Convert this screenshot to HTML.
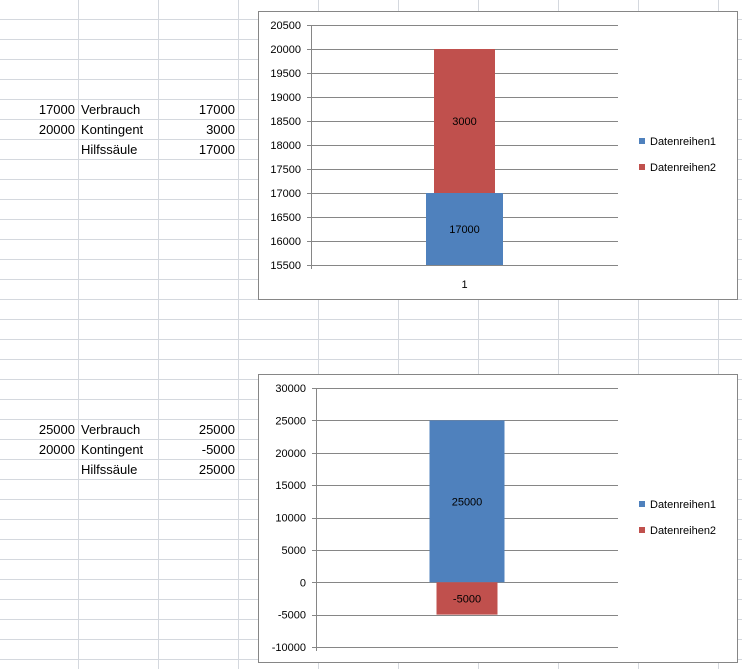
<!DOCTYPE html>
<html><head><meta charset="utf-8"><style>
html,body{margin:0;padding:0;background:#fff;}
svg{display:block;font-family:"Liberation Sans",sans-serif;}
</style></head><body>
<svg id="s" width="742" height="669" xmlns="http://www.w3.org/2000/svg">
<g id="grid"></g>
<g id="cells"></g>
<g id="c1"></g>
<g id="c2"></g>
</svg>
<script>
const NS='http://www.w3.org/2000/svg';
// chart 1 data
const c1Categories=['1'];
const c1Series1=[17000];
const c1Series2=[3000];
const c1Ticks=[15500,16000,16500,17000,17500,18000,18500,19000,19500,20000,20500];
// chart 2 data
const c2Categories=[''];
const c2Series1=[25000];
const c2Series2=[-5000];
const c2Ticks=[-10000,-5000,0,5000,10000,15000,20000,25000,30000];
const seriesNames=['Datenreihen1','Datenreihen2'];
// cell data
const block1=[['17000','Verbrauch','17000'],['20000','Kontingent','3000'],['','Hilfssäule','17000']];
const block2=[['25000','Verbrauch','25000'],['20000','Kontingent','-5000'],['','Hilfssäule','25000']];

function mk(tag,attrs,parent,text){const e=document.createElementNS(NS,tag);for(const k in attrs)e.setAttribute(k,attrs[k]);if(text!==undefined)e.textContent=text;parent.appendChild(e);return e;}
const grid=document.getElementById('grid');
for(let x=78;x<742;x+=80){const l=mk('line',{x1:x+.5,y1:0,x2:x+.5,y2:669,stroke:'#d4d8de'},grid);}
for(let y=19;y<669;y+=20){const l=mk('line',{x1:0,y1:y+.5,x2:742,y2:y+.5,stroke:'#d4d8de'},grid);}
const cells=document.getElementById('cells');
function block(rows,y0){rows.forEach((r,i)=>{const y=y0+i*20;
 let t=mk('text',{x:75,y:y,'text-anchor':'end','font-size':13},cells,r[0]);
 t=mk('text',{x:81,y:y,'font-size':13},cells,r[1]);
 t=mk('text',{x:235,y:y,'text-anchor':'end','font-size':13},cells,r[2]);});}
block(block1,114);block(block2,434);

function chart(g,box,plot,ticks,cats,s1,s2,b1,b2){
 const r=mk('rect',{x:box[0]+.5,y:box[1]+.5,width:box[2],height:box[3],fill:'#fff',stroke:'#868686'},g);
 const mn=ticks[0],mx=ticks[ticks.length-1];
 const Y=v=>plot.b-(v-mn)/(mx-mn)*(plot.b-plot.t);
 ticks.forEach(v=>{const l=mk('line',{x1:plot.l-4,x2:plot.r,y1:Math.round(Y(v))+.5,y2:Math.round(Y(v))+.5,stroke:'#868686'},g);
  const t=mk('text',{x:plot.l-10,y:Y(v)+4,'text-anchor':'end','font-size':11},g,String(v));});
 const ax=mk('line',{x1:plot.l+.5,x2:plot.l+.5,y1:plot.t,y2:plot.b+4,stroke:'#868686'},g);
 const cw=(plot.r-plot.l)/cats.length;
 cats.forEach((c,i)=>{const cx=plot.l+cw*(i+.5);
  const base1=0>mn?0:mn;
  let y1=Y(Math.max(s1[i],base1)),y0=Y(Math.min(s1[i],base1));
  if(s1[i]<mn){y1=Y(mn);}
  let b=mk('rect',{x:cx-b1/2,y:Math.min(Y(s1[i]),Y(Math.max(base1,mn))),width:b1,height:Math.abs(Y(s1[i])-Y(Math.max(base1,mn))),fill:'#4f81bd'},g);
  // series2 stacks on series1 if positive, else from 0 downward
  let lo,hi;if(s2[i]>=0){lo=s1[i];hi=s1[i]+s2[i];}else{lo=s2[i];hi=0;}
  b=mk('rect',{x:cx-b2/2,y:Y(hi),width:b2,height:Y(lo)-Y(hi),fill:'#c0504d'},g);
  let t=mk('text',{x:cx,y:(Y(s1[i])+Y(Math.max(base1,mn)))/2+4,'text-anchor':'middle','font-size':11},g,String(s1[i]));
  t=mk('text',{x:cx,y:(Y(hi)+Y(lo))/2+4,'text-anchor':'middle','font-size':11},g,String(s2[i]));
  if(c){t=mk('text',{x:cx,y:plot.b+23,'text-anchor':'middle','font-size':11},g,c);}
 });
 const ly=box[1]+box[3]/2;
 [['#4f81bd',-11],['#c0504d',15]].forEach((s,i)=>{const q=mk('rect',{x:639,y:ly+s[1]-6,width:6,height:6,fill:s[0]},g);
  const t=mk('text',{x:650,y:ly+s[1]+1,'font-size':11},g,seriesNames[i]);});
}
chart(document.getElementById('c1'),[258,11,479,288],{l:311,r:618,t:25,b:265},c1Ticks,c1Categories,c1Series1,c1Series2,77,61);
chart(document.getElementById('c2'),[258,374,479,288],{l:316,r:618,t:388,b:647},c2Ticks,c2Categories,c2Series1,c2Series2,75,61);
</script>
</body></html>
